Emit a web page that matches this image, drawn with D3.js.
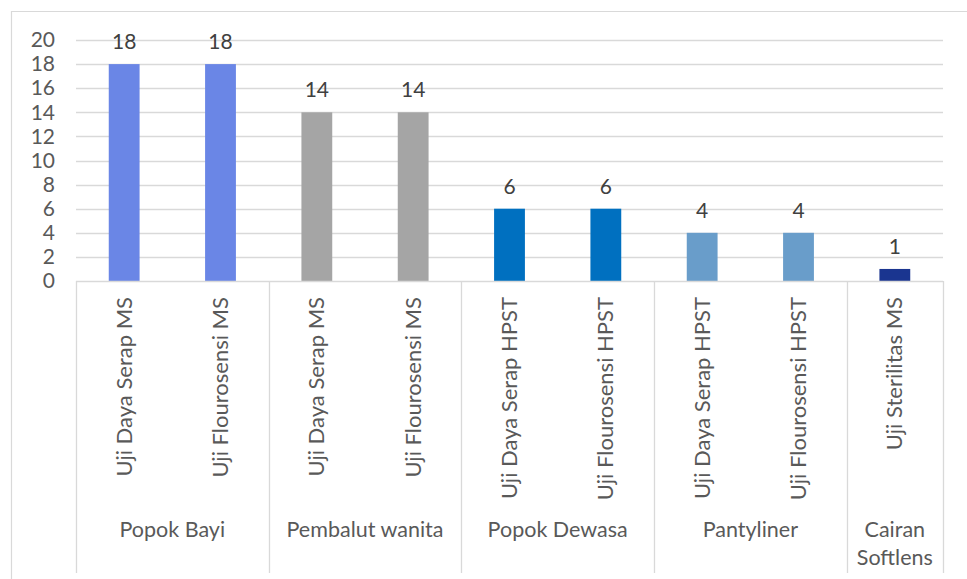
<!DOCTYPE html>
<html>
<head>
<meta charset="utf-8">
<script src="https://cdn.jsdelivr.net/npm/d3@7"></script>
<style>
  body { margin: 0; background: #fff; }
  svg { display: block; font-family: Lato, "Noto Sans", sans-serif; }
</style>
</head>
<body>
<svg id="chart" width="967" height="579"></svg>
<script>
// groups on the outer level of the category axis
const groupNames = ["Popok Bayi", "Pembalut wanita", "Popok Dewasa", "Pantyliner", "Cairan Softlens"];
const groupColors = ["#6a86e6", "#a5a5a5", "#0070c0", "#699dca", "#1a3590"];

// one bar per test
const testNames = [
  "Uji Daya Serap MS", "Uji Flourosensi MS",
  "Uji Daya Serap MS", "Uji Flourosensi MS",
  "Uji Daya Serap HPST", "Uji Flourosensi HPST",
  "Uji Daya Serap HPST", "Uji Flourosensi HPST",
  "Uji Sterilitas MS"
];
const testGroup = [0, 0, 1, 1, 2, 2, 3, 3, 4];
const testValues = [18, 18, 14, 14, 6, 6, 4, 4, 1];
const yTicks = [0, 2, 4, 6, 8, 10, 12, 14, 16, 18, 20];

const textColor = "#595959";
const lineColor = "#d9d9d9";

const svg = d3.select("#chart");
const plot = { left: 76, right: 943, top: 40, bottom: 281 };

// outer chart border (left + top only visible in the crop)
svg.append("path")
  .attr("d", "M11.5,579 V11.5 H967")
  .attr("fill", "none")
  .attr("stroke", lineColor)
  .attr("stroke-width", 1.2);

const idx = d3.range(testNames.length);

const x = d3.scaleBand()
  .domain(idx)
  .range([plot.left, plot.right])
  .paddingInner(0.68)
  .paddingOuter(0.34);

// slots without padding, for the divider lines
const slot = d3.scaleBand().domain(idx).range([plot.left, plot.right]);

const y = d3.scaleLinear().domain([0, 20]).range([plot.bottom, plot.top]);

// gridlines
svg.append("g")
  .selectAll("line")
  .data(yTicks.filter(d => d > 0))
  .join("line")
  .attr("x1", plot.left)
  .attr("x2", plot.right)
  .attr("y1", d => Math.round(y(d)) + 0.5)
  .attr("y2", d => Math.round(y(d)) + 0.5)
  .attr("stroke", lineColor)
  .attr("stroke-width", 1.3);

// y axis labels
const yAxis = svg.append("g")
  .attr("transform", `translate(${plot.left - 21},0)`)
  .call(d3.axisLeft(y).tickValues(yTicks).tickSize(0).tickPadding(0));
yAxis.select(".domain").remove();
yAxis.selectAll("text")
  .attr("fill", textColor)
  .style("font-size", "21px")
  .style("font-family", "Lato, 'Noto Sans', sans-serif");

// bars
svg.append("g")
  .selectAll("rect")
  .data(idx)
  .join("rect")
  .attr("x", i => x(i))
  .attr("y", i => y(testValues[i]))
  .attr("width", x.bandwidth())
  .attr("height", i => y(0) - y(testValues[i]))
  .attr("fill", i => groupColors[testGroup[i]]);

// value labels
svg.append("g")
  .selectAll("text")
  .data(idx)
  .join("text")
  .attr("x", i => x(i) + x.bandwidth() / 2)
  .attr("y", i => y(testValues[i]) - 15)
  .attr("text-anchor", "middle")
  .attr("fill", "#404040")
  .style("font-size", "21px")
  .text(i => testValues[i]);

// x axis base line
svg.append("line")
  .attr("x1", plot.left)
  .attr("x2", plot.right)
  .attr("y1", plot.bottom + 0.5)
  .attr("y2", plot.bottom + 0.5)
  .attr("stroke", lineColor)
  .attr("stroke-width", 1.3);

// group dividers
const groupStarts = groupNames.map((g, gi) => testGroup.indexOf(gi));
const groupEnds = groupNames.map((g, gi) => testGroup.lastIndexOf(gi));
const dividerX = groupStarts.map(i => slot(i)).concat([plot.right]);

svg.append("g")
  .selectAll("line")
  .data(dividerX)
  .join("line")
  .attr("x1", d => Math.round(d) + 0.5)
  .attr("x2", d => Math.round(d) + 0.5)
  .attr("y1", plot.bottom)
  .attr("y2", 573)
  .attr("stroke", lineColor)
  .attr("stroke-width", 1.3);

// rotated test labels
svg.append("g")
  .selectAll("text")
  .data(idx)
  .join("text")
  .attr("transform", i => `translate(${x(i) + x.bandwidth() / 2 + 7.5},297) rotate(-90)`)
  .attr("text-anchor", "end")
  .attr("fill", textColor)
  .style("font-size", "22px")
  .text(i => testNames[i]);

// group labels, wrapped when wider than their slot
const groupLabels = svg.append("g")
  .selectAll("text")
  .data(groupNames)
  .join("text")
  .attr("x", (g, gi) => (slot(groupStarts[gi]) + slot(groupEnds[gi]) + slot.bandwidth()) / 2)
  .attr("y", 537)
  .attr("text-anchor", "middle")
  .attr("fill", textColor)
  .style("font-size", "21.5px");

groupLabels.each(function (g, gi) {
  const el = d3.select(this);
  const room = slot.bandwidth() * (groupEnds[gi] - groupStarts[gi] + 1) - 12;
  el.text(g);
  if (this.getComputedTextLength() > room) {
    el.text(null);
    const cx = el.attr("x");
    g.split(" ").forEach((w, k) => {
      el.append("tspan").attr("x", cx).attr("dy", k === 0 ? 0 : 28).text(w);
    });
  }
});
</script>
</body>
</html>
